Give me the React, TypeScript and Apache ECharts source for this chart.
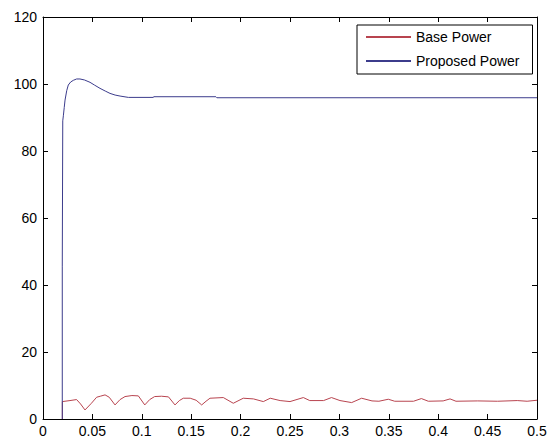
import React, { useEffect, useRef } from "react";
import * as echarts from "echarts";

const xTicks = { min: 0, max: 0.5, interval: 0.05 };
const yTicks = { min: 0, max: 120, interval: 20 };

const seriesNames = ["Base Power", "Proposed Power"];

const baseTime = [
  0.0196, 0.0196, 0.0273, 0.034, 0.038, 0.0425, 0.049, 0.0543, 0.058, 0.0628, 0.067, 0.0729,
  0.078, 0.083, 0.09, 0.0965, 0.103, 0.108, 0.113, 0.12, 0.127, 0.1336, 0.138, 0.142, 0.149,
  0.155, 0.1606, 0.165, 0.169, 0.1825, 0.1926, 0.2027, 0.213,
  0.223, 0.23, 0.24, 0.25, 0.2635, 0.27, 0.284, 0.292, 0.3006, 0.3124, 0.3225, 0.333, 0.34,
  0.3495, 0.356, 0.375, 0.383, 0.39, 0.405, 0.412, 0.418, 0.44, 0.46, 0.48, 0.49, 0.5,
];
const basePower = [
  0, 5.2, 5.5, 5.8, 4.5, 2.7, 4.7, 6.5, 6.8, 7.2, 6.5, 4.2,
  5.8, 6.7, 7.0, 6.9, 4.2, 5.8, 6.7, 6.8, 6.6, 4.2, 5.5, 6.2, 6.2,
  5.6, 4.2, 5.3, 6.2, 6.4, 4.7, 6.2, 6.0,
  5.2, 6.2, 5.5, 5.2, 6.4, 5.5, 5.5, 6.4, 5.5, 4.9, 6.2, 5.4, 5.3,
  5.9, 5.3, 5.3, 6.1, 5.3, 5.4, 6.0, 5.3, 5.4, 5.3, 5.5, 5.3, 5.6,
];

const proposedTime = [
  0.0195, 0.0195, 0.02, 0.02, 0.0206, 0.0215, 0.0223, 0.024, 0.0256, 0.028, 0.0307,
  0.034, 0.0374, 0.042, 0.0476, 0.052, 0.0577, 0.063, 0.0678, 0.073, 0.078, 0.0864,
  0.1117, 0.112, 0.175, 0.176, 0.5,
];
const proposedPower = [
  0, 45.4, 45.4, 89, 90.5, 93, 95.2, 98, 99.7, 100.6, 101.1,
  101.5, 101.5, 101.2, 100.5, 99.7, 98.7, 97.9, 97.2, 96.7, 96.4, 96.0,
  96.0, 96.2, 96.2, 95.9, 95.9,
];

const FONT = "'Liberation Sans', Arial, sans-serif";

export default function App() {
  const ref = useRef<HTMLDivElement>(null);
  useEffect(() => {
    if (!ref.current) return;
    const chart = echarts.init(ref.current, undefined, { renderer: "svg" });
    const axisCommon = {
      type: "value" as const,
      axisLine: { show: true, onZero: false, lineStyle: { color: "#000", width: 1 } },
      axisTick: { show: true, inside: true, length: 5, lineStyle: { color: "#000" } },
      splitLine: { show: false },
    };
    chart.setOption({
      animation: false,
      backgroundColor: "#fff",
      textStyle: { fontFamily: FONT },
      grid: { left: 43, top: 17, right: 17, bottom: 23, containLabel: false },
      legend: {
        orient: "vertical",
        left: 357,
        top: 25,
        padding: [5, 13, 6, 8],
        itemWidth: 45,
        itemHeight: 14,
        itemGap: 10,
        borderColor: "#000",
        borderWidth: 1,
        borderRadius: 0,
        backgroundColor: "#fff",
        itemStyle: { color: "rgba(0,0,0,0)", borderWidth: 0, opacity: 0 },
        textStyle: { fontSize: 14, color: "#000", fontFamily: FONT },
        data: seriesNames,
      },
      xAxis: [
        {
          ...axisCommon,
          position: "bottom",
          ...xTicks,
          axisLabel: { color: "#000", fontSize: 14, margin: 5, fontFamily: FONT },
        },
        {
          ...axisCommon,
          position: "top",
          ...xTicks,
          axisLabel: { show: false },
        },
      ],
      yAxis: [
        {
          ...axisCommon,
          position: "left",
          ...yTicks,
          axisLabel: { color: "#000", fontSize: 14, margin: 6, fontFamily: FONT },
        },
        {
          ...axisCommon,
          position: "right",
          ...yTicks,
          axisLabel: { show: false },
        },
      ],
      series: [
        {
          name: seriesNames[0],
          type: "line",
          symbol: "none",
          color: "#b8444f",
          lineStyle: { width: 1, color: "#b8444f" },
          data: baseTime.map((t, i) => [t, basePower[i]]),
          z: 3,
        },
        {
          name: seriesNames[1],
          type: "line",
          symbol: "none",
          color: "#3c3c8c",
          lineStyle: { width: 1, color: "#3c3c8c" },
          data: proposedTime.map((t, i) => [t, proposedPower[i]]),
          z: 4,
        },
      ],
    });
    return () => chart.dispose();
  }, []);
  return (
    <div
      ref={ref}
      style={{ position: "fixed", left: 0, top: 0, width: 554, height: 442, background: "#fff" }}
    />
  );
}
